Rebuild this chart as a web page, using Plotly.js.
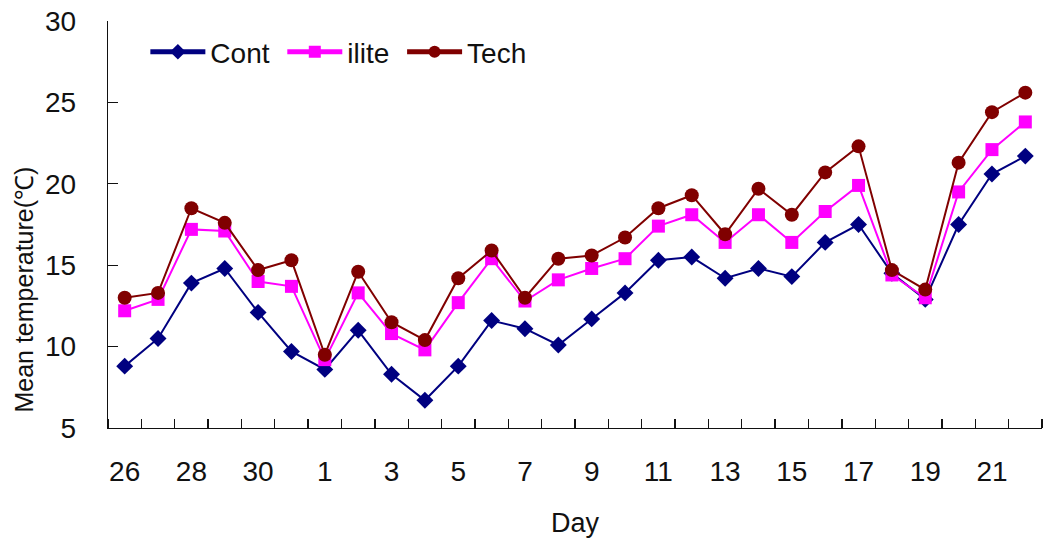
<!DOCTYPE html>
<html>
<head>
<meta charset="utf-8">
<script src="https://cdn.plot.ly/plotly-3.0.1.min.js"></script>
<style>
  html, body { margin: 0; padding: 0; background: #fff; }
  #chart { width: 1044px; height: 542px; }
</style>
</head>
<body>
<div id="chart"></div>
<script>
// Day of month, running from the 26th through the 22nd of the next month
const days = ["26", "27", "28", "29", "30", "31", "1", "2", "3", "4", "5", "6", "7", "8",
              "9", "10", "11", "12", "13", "14", "15", "16", "17", "18", "19", "20", "21", "22"];

// Mean temperature (°C) per treatment
const cont  = [8.8, 10.5, 13.9, 14.8, 12.1, 9.7, 8.6, 11.0, 8.3, 6.7, 8.8, 11.6, 11.1, 10.1,
               11.7, 13.3, 15.3, 15.5, 14.2, 14.8, 14.3, 16.4, 17.5, 14.5, 12.9, 17.5, 20.6, 21.7];
const ilite = [12.2, 12.9, 17.2, 17.1, 14.0, 13.7, 9.2, 13.3, 10.8, 9.8, 12.7, 15.4, 12.8, 14.1,
               14.8, 15.4, 17.4, 18.1, 16.4, 18.1, 16.4, 18.3, 19.9, 14.4, 13.0, 19.5, 22.1, 23.8];
const tech  = [13.0, 13.3, 18.5, 17.6, 14.7, 15.3, 9.5, 14.6, 11.5, 10.4, 14.2, 15.9, 13.0, 15.4,
               15.6, 16.7, 18.5, 19.3, 16.9, 19.7, 18.1, 20.7, 22.3, 14.7, 13.5, 21.3, 24.4, 25.6];

const seriesNames = ["Cont", "ilite", "Tech"];
const yTitle = "Mean temperature(℃)";
const xTitle = "Day";

const idx = days.map((d, i) => i);
// every second day gets a label
const labelIdx = idx.filter(i => i % 2 === 0);
const labelText = labelIdx.map(i => days[i]);

const FONT = "Liberation Sans, Arial, Helvetica, sans-serif";
const INK = "#111";
// a little breathing room after each legend entry
const PAD = "\u00a0";

function series(name, y, color, symbol, size) {
  return {
    type: "scatter", mode: "lines+markers", name: name + PAD,
    x: idx, y: y,
    line: { color: color, width: 2 },
    marker: { color: color, symbol: symbol, size: size, line: { width: 0 } }
  };
}

const data = [
  series(seriesNames[0], cont,  "#000080", "diamond", 13),
  series(seriesNames[1], ilite, "#FF00FF", "square", 13),
  series(seriesNames[2], tech,  "#800000", "circle", 14)
];

const layout = {
  width: 1044, height: 542,
  paper_bgcolor: "#fff", plot_bgcolor: "#fff",
  margin: { l: 108, r: 2, t: 21, b: 114 },
  font: { family: FONT, color: INK, size: 28 },
  showlegend: true,
  legend: {
    orientation: "h", x: 0.04, y: 0.985, xanchor: "left", yanchor: "top",
    font: { family: FONT, size: 28, color: INK },
    bgcolor: "rgba(0,0,0,0)", itemwidth: 55, itemsizing: "constant", tracegroupgap: 0
  },
  xaxis: {
    range: [-0.5, 27.5], showgrid: false, zeroline: false,
    showline: true, linecolor: INK, linewidth: 1.3,
    tickmode: "array", tickvals: labelIdx, ticktext: labelText,
    ticks: "", ticklabelstandoff: 18,
    tickfont: { family: FONT, size: 28, color: INK },
    minor: { tickmode: "linear", tick0: -0.5, dtick: 1, ticks: "inside",
             ticklen: 9, tickwidth: 1.3, tickcolor: INK, showgrid: false },
    title: { text: xTitle, font: { family: FONT, size: 27, color: INK }, standoff: 27 },
    fixedrange: true
  },
  yaxis: {
    range: [5, 30], dtick: 5, tick0: 5, showgrid: false, zeroline: false,
    showline: true, linecolor: INK, linewidth: 1.3,
    ticks: "inside", ticklen: 10, tickwidth: 1.3, tickcolor: INK,
    ticklabelstandoff: 25,
    tickfont: { family: FONT, size: 28, color: INK },
    fixedrange: true
  },
  // value-axis caption, set low along the left edge
  annotations: [{
    text: yTitle, textangle: -90, showarrow: false,
    xref: "paper", yref: "paper", x: -0.09, y: 0.34,
    xanchor: "center", yanchor: "middle",
    font: { family: FONT, size: 25, color: INK }
  }]
};

Plotly.newPlot("chart", data, layout, { staticPlot: true, displayModeBar: false });
</script>
</body>
</html>
